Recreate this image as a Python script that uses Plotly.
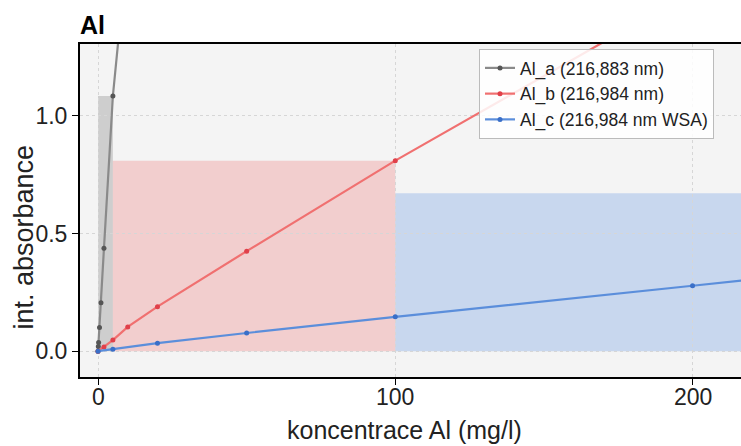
import plotly.graph_objects as go

# ---- data ----
conc_a = [0, 0.1, 0.2, 0.5, 1, 2, 5, 10]
abs_a = [0.0, 0.02, 0.037, 0.10, 0.206, 0.437, 1.085, 1.73]

conc_b = [0, 2, 5, 10, 20, 50, 100, 200]
abs_b = [0.0, 0.018, 0.047, 0.103, 0.189, 0.425, 0.810, 1.53]

conc_c = [0, 5, 20, 50, 100, 200, 500]
abs_c = [0.0, 0.008, 0.034, 0.077, 0.146, 0.278, 0.671]

# linear working ranges for each line (mg/l)
range_a = [0, 5]
range_b = [5, 100]
range_c = [100, 500]

names = ["Al_a (216,883 nm)", "Al_b (216,984 nm)", "Al_c (216,984 nm WSA)"]
x_ticks = [0, 100, 200]
y_ticks = [0.0, 0.5, 1.0]

line_cols = ["#8a8a8a", "#f07070", "#5b8edb"]
mark_cols = ["#555555", "#e0404a", "#3a6fc8"]
fill_cols = ["rgba(150,150,150,0.40)", "rgba(240,120,120,0.30)", "rgba(100,150,225,0.30)"]

FONT = "Liberation Sans, Arial"
TXT = "#222222"

fig = go.Figure()

series = [(conc_a, abs_a, range_a), (conc_b, abs_b, range_b), (conc_c, abs_c, range_c)]
for i, (cx, ay, rg) in enumerate(series):
    top = max(v for c, v in zip(cx, ay) if rg[0] <= c <= rg[1])
    fig.add_shape(type="rect", x0=rg[0], x1=rg[1], y0=0, y1=top,
                  fillcolor=fill_cols[i], line_width=0, layer="below")

for i, (cx, ay, rg) in enumerate(series):
    fig.add_trace(go.Scatter(
        x=cx, y=ay, mode="lines+markers", name=names[i],
        line=dict(color=line_cols[i], width=2.2),
        marker=dict(color=mark_cols[i], size=5),
    ))

axis_common = dict(
    showline=True, linecolor="black", linewidth=2,
    ticks="outside", ticklen=6, tickcolor="black", tickwidth=1,
    showgrid=True, gridcolor="#d6d6d6", griddash="dot", gridwidth=1,
    zeroline=False,
    tickfont=dict(family=FONT, size=23, color=TXT),
)

annotations = [
    dict(text="koncentrace Al (mg/l)", xref="paper", yref="paper",
         x=(404 - 80) / 661, y=(377 - 430) / 333, xanchor="center", yanchor="middle",
         showarrow=False, font=dict(family=FONT, size=25, color=TXT)),
    dict(text="int. absorbance", xref="paper", yref="paper", textangle=-90,
         x=(23.5 - 80) / 661, y=(377 - 237) / 333, xanchor="center", yanchor="middle",
         showarrow=False, font=dict(family=FONT, size=27, color=TXT)),
]
# x tick labels placed closer to the axis, as in the reference
for v in x_ticks:
    annotations.append(dict(text=str(v), xref="x", yref="paper", x=v,
                            y=(377 - 397) / 333, xanchor="center", yanchor="middle",
                            showarrow=False, font=dict(family=FONT, size=23, color=TXT)))

fig.update_layout(
    width=741, height=446,
    margin=dict(l=80, r=0, t=44, b=69),
    paper_bgcolor="white", plot_bgcolor="#f4f4f4",
    title=dict(text="<b>Al</b>", x=80 / 741, xanchor="left", y=1 - 25 / 446, yanchor="middle",
               font=dict(family=FONT, size=25, color="black")),
    showlegend=True,
    legend=dict(x=(479 - 80) / 661, y=(377 - 49) / 333, xanchor="left", yanchor="top",
                bgcolor="rgba(255,255,255,0.85)", bordercolor="#bbbbbb", borderwidth=1,
                font=dict(family=FONT, size=17.5, color=TXT),
                itemwidth=30, tracegroupgap=0),
    xaxis=dict(range=[-6.06, 216.3], tickvals=x_ticks, showticklabels=False,
               mirror=True, **axis_common),
    yaxis=dict(range=[-0.11, 1.306], tickvals=y_ticks, tickformat=".1f", **axis_common),
    annotations=annotations,
)

fig.write_html("out.html")
